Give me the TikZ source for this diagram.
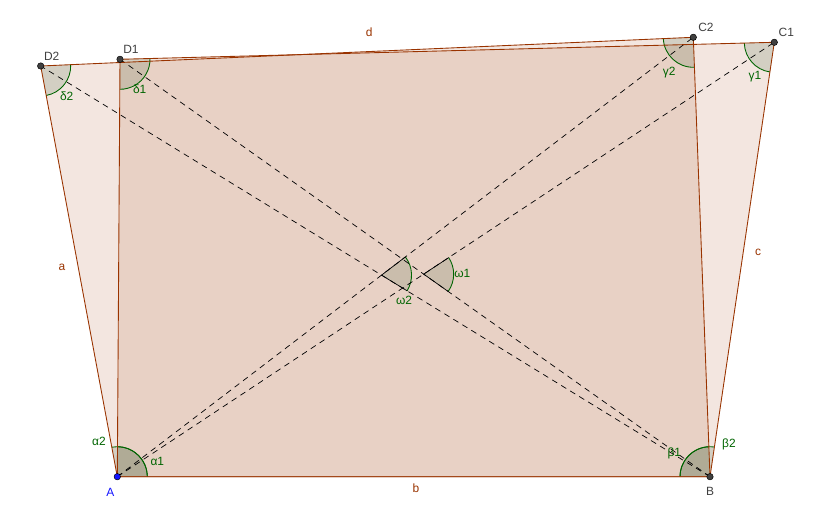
\documentclass[tikz,border=0pt]{standalone}
\usepackage{fontspec}
\setmainfont{Liberation Sans}
\usetikzlibrary{calc}
\usetikzlibrary{angles}
\definecolor{segcol}{RGB}{153,51,0}
\definecolor{angcol}{RGB}{0,100,0}
\definecolor{ptcol}{RGB}{64,64,64}
\definecolor{ptblue}{RGB}{20,20,255}
\tikzset{
  side/.style={draw=segcol,line width=0.75pt},
  poly/.style={fill=segcol,fill opacity=0.12},
  diag/.style={draw=black,line width=0.6pt,dash pattern=on 5pt off 4pt},
  ang/.style={draw=angcol,line width=0.75pt,fill=angcol!55!black,fill opacity=0.13,angle radius=0.9cm},
  pt/.style={circle,fill=ptcol,draw=black,line width=0.4pt,inner sep=0pt,minimum size=5.5pt},
  ptlbl/.style={text=ptcol},
  anglbl/.style={text=angcol},
  sidelbl/.style={text=segcol},
}
\begin{document}
\begin{tikzpicture}[x=0.03cm,y=0.03cm,font=\fontsize{10.2}{12}\selectfont]
   \useasboundingbox (0,0) rectangle (834,525);
   \coordinate (A) at (117.3,48.3);
   \coordinate (B) at (710,48.3);
   \coordinate (C1) at (774.3,482.7);
   \coordinate (C2) at (693.3,487.7);
   \coordinate (D1) at (120,465.7);
   \coordinate (D2) at (40.7,459);
   \coordinate (W1) at (intersection of A--C1 and B--D1);
   \coordinate (W2) at (intersection of A--C2 and B--D2);

   % the two quadrilaterals
   \path[poly] (A) -- (B) -- (C1) -- (D1) -- cycle;
   \path[poly] (A) -- (B) -- (C2) -- (D2) -- cycle;

   % angles
   \pic[ang] {angle=B--A--D1};
   \pic[ang] {angle=B--A--D2};
   \pic[ang] {angle=C1--B--A};
   \pic[ang] {angle=C2--B--A};
   \pic[ang] {angle=D1--C1--B};
   \pic[ang] {angle=D2--C2--B};
   \pic[ang] {angle=A--D1--C1};
   \pic[ang] {angle=A--D2--C2};
   \pic[ang] {angle=B--W1--C1};
   \pic[ang] {angle=B--W2--C2};
   \draw[line width=0.6pt] ($(W1)!0.9cm!(C1)$) -- (W1) -- ($(W1)!0.9cm!(B)$);
   \draw[line width=0.6pt] ($(W2)!0.9cm!(C2)$) -- (W2) -- ($(W2)!0.9cm!(B)$);

   % diagonals
   \draw[diag] (A) -- (C1);
   \draw[diag] (A) -- (C2);
   \draw[diag] (B) -- (D1);
   \draw[diag] (B) -- (D2);

   % sides
   \draw[side] (A) -- (B) -- (C1) -- (D1) -- cycle;
   \draw[side] (A) -- (B) -- (C2) -- (D2) -- cycle;

   % points
   \node[pt,fill=ptblue] (pA) at (A) {};
   \node[pt] (pB) at (B) {};
   \node[pt] (pC1) at (C1) {};
   \node[pt] (pC2) at (C2) {};
   \node[pt] (pD1) at (D1) {};
   \node[pt] (pD2) at (D2) {};

   \node[ptlbl,text=ptblue] (tA) at ($(A)+(-7,-15.6)$) {A};
   \node[ptlbl] (tB) at ($(B)+(0,-14.5)$) {B};
   \node[ptlbl] (tC1) at ($(C1)+(12,10)$) {C1};
   \node[ptlbl] (tC2) at ($(C2)+(12.7,10)$) {C2};
   \node[ptlbl] (tD1) at ($(D1)+(11,10)$) {D1};
   \node[ptlbl] (tD2) at ($(D2)+(11,10)$) {D2};

   \node[sidelbl] (ta) at (62,258) {a};
   \node[sidelbl] (tb) at (416,37) {b};
   \node[sidelbl] (tc) at (758,273) {c};
   \node[sidelbl] (td) at (369.3,492.3) {d};

   \node[anglbl] (tal1) at (157.3,63.3) {α1};
   \node[anglbl] (tal2) at (99,83.3) {α2};
   \node[anglbl] (tbe1) at (674.3,71.7) {β1};
   \node[anglbl] (tbe2) at (729,80.7) {β2};
   \node[anglbl] (tga1) at (755,448.3) {γ1};
   \node[anglbl] (tga2) at (669.3,452.7) {γ2};
   \node[anglbl] (tde1) at (139.7,435.7) {δ1};
   \node[anglbl] (tde2) at (66.7,428.3) {δ2};
   \node[anglbl] (tom1) at (462.3,251.7) {ω1};
   \node[anglbl] (tom2) at (404,225) {ω2};
\end{tikzpicture}
\end{document}
